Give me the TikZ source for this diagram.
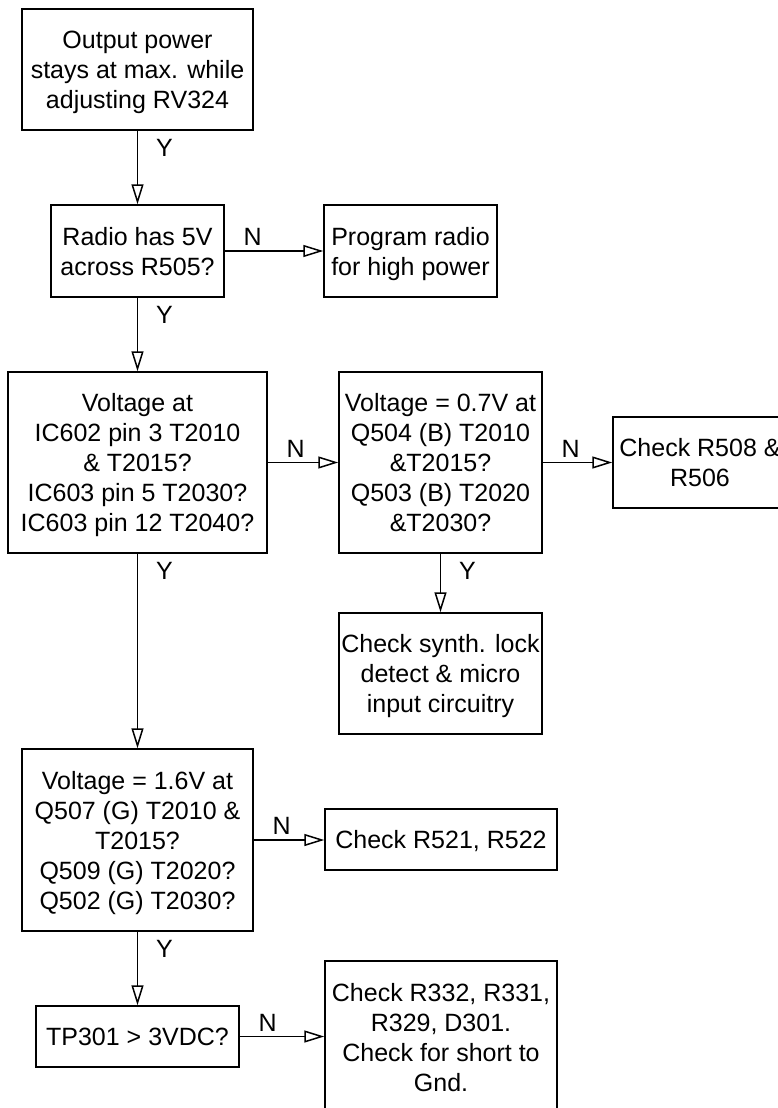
\documentclass[tikz,border=0pt]{standalone}
\usepackage{fontspec}
\setmainfont{Liberation Sans}
\usetikzlibrary{arrows.meta, positioning}
\tikzset{
	box/.style={draw, line width=1.5pt, align=center, inner sep=0pt, text depth=0pt, font=\fontsize{25}{30}\selectfont}
}
\tikzset{
	flow/.style={line width=1.5pt, -{Triangle[open, length=20pt, width=12pt, line width=1.5pt]}},
	lbl/.style={font=\fontsize{25}{30}\selectfont, inner sep=0pt}
}

\begin{document}
\begin{tikzpicture}[x=1pt, y=-1pt]
      \useasboundingbox (0,0) rectangle (778,1108);
      \node[box, minimum width=231pt, minimum height=121pt] (out) at (137.5,69.5) {Output power\\stays at max. while\\adjusting RV324};
      \node[box, minimum width=173pt, minimum height=92pt] (five) at (137.5,251) {Radio has 5V\\across R505?};
      \node[box, minimum width=173pt, minimum height=92pt] (prog) at (410.5,251) {Program radio\\for high power};
      \node[box, minimum width=259pt, minimum height=181pt] (ic) at (137.5,462.5) {Voltage at\\IC602 pin 3 T2010\\\& T2015?\\IC603 pin 5 T2030?\\IC603 pin 12 T2040?};
      \node[box, minimum width=203pt, minimum height=181pt] (base) at (440.5,462.5) {Voltage = 0.7V at\\Q504 (B) T2010\\\&T2015?\\Q503 (B) T2020\\\&T2030?};
      \node[box, minimum width=174pt, minimum height=91pt] (rfive) at (700,462.5) {Check R508 \&\\R506};
      \node[box, minimum width=203pt, minimum height=121pt] (synth) at (440.5,673.5) {Check synth. lock\\detect \& micro\\input circuitry};
      \node[box, minimum width=231pt, minimum height=182pt] (gate) at (137.5,840) {Voltage = 1.6V at\\Q507 (G) T2010 \&\\T2015?\\Q509 (G) T2020?\\Q502 (G) T2030?};
      \node[box, minimum width=232pt, minimum height=61pt] (rtwo) at (441,839.5) {Check R521, R522};
      \node[box, minimum width=203pt, minimum height=61pt] (tp) at (137.5,1036.5) {TP301 > 3VDC?};
      \node[box, minimum width=232pt, minimum height=152pt] (short) at (441,1037) {Check R332, R331,\\R329, D301.\\Check for short to\\Gnd.};
      % yes branches
      \foreach \a/\b in {out/five, five/ic, ic/gate, base/synth, gate/tp} {
        \draw[flow] (\a.south) -- node[at start, lbl, xshift=27pt, yshift=-17pt] {Y} (\a.south |- \b.north);
      }
      % no branches
      \foreach \a/\b in {five/prog, ic/base, base/rfive, gate/rtwo, tp/short} {
        \draw[flow] (\a.east) -- node[at start, lbl, xshift=28pt, yshift=14pt] {N} (\a.east -| \b.west);
      }
    \end{tikzpicture}
\end{document}
